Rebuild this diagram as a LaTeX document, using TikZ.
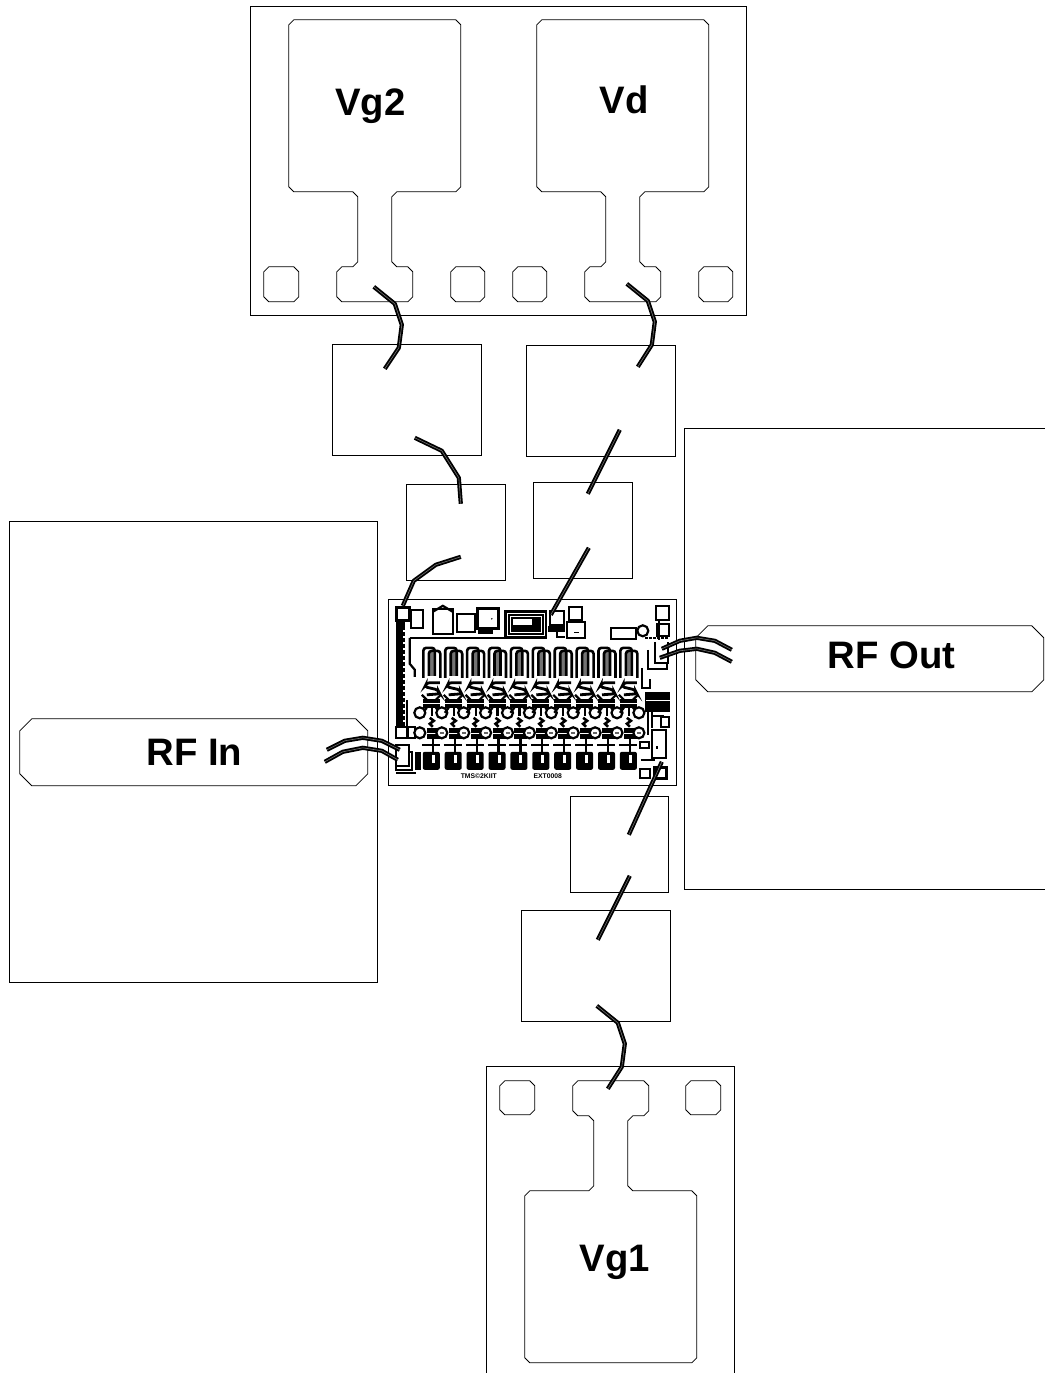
\documentclass[tikz,border=0pt]{standalone}
\usepackage{fontspec}
\setmainfont{Liberation Sans}
\tikzset{
  x=1pt,y=-1pt,
  outline/.style={draw=black,line width=0.8pt,fill=none},
  label/.style={font=\bfseries\fontsize{38.3}{40}\selectfont,inner sep=0pt},
  wire/.style={draw=black,line width=1.8pt,double=black!55,double distance=0.6pt,line join=round},
  chipline/.style={draw=black,line width=2.2pt},
  chipthin/.style={draw=black,line width=1pt},
  chiplabel/.style={font=\bfseries\fontsize{6.8}{7}\selectfont,inner sep=0pt}
}
\newcommand{\chamf}[5]{\draw[outline] ({#1+#5},#2)--({#3-#5},#2)--(#3,{#2+#5})--(#3,{#4-#5})--({#3-#5},#4)--({#1+#5},#4)--(#1,{#4-#5})--(#1,{#2+#5})--cycle;}
\newcommand{\tpad}{\draw[outline] (5,0)--(167,0)--(172,5)--(172,167)--(167,172)--(108,172)--(103,177)--(103,242)--(108,247)--(119,247)--(124,252)--(124,277)--(119,282)--(53,282)--(48,277)--(48,252)--(53,247)--(64,247)--(69,242)--(69,177)--(64,172)--(5,172)--(0,167)--(0,5)--cycle;}
\newcommand{\chipbox}[4]{\draw[chipline,fill=white] (#1,#2) rectangle (#3,#4);}
\begin{document}
\begin{tikzpicture}
\useasboundingbox (0,0) rectangle (1044,1373);
\fill[white] (0,0) rectangle (1044,1373);
\begin{scope}[shift={(-0.2,-0.2)}]
% large frames
\draw[outline] (251,7) rectangle (747,316);
\draw[outline] (1045,429)--(685,429)--(685,890)--(1045,890);
\draw[outline] (10,522) rectangle (378,983);
\draw[outline] (487,1374)--(487,1067)--(735,1067)--(735,1374);
% DC pads
\begin{scope}[shift={(289,20)}]\tpad\end{scope}
\begin{scope}[shift={(537,20)}]\tpad\end{scope}
\begin{scope}[shift={(525,1363)},yscale=-1]\tpad\end{scope}
\chamf{264}{267}{299}{302}{5}
\chamf{451}{267}{485}{302}{5}
\chamf{513}{267}{547}{302}{5}
\chamf{699}{267}{733}{302}{5}
\chamf{500}{1081}{535}{1115}{5}
\chamf{686}{1081}{721}{1115}{5}
% capacitors
\draw[outline] (333,345) rectangle (482,456);
\draw[outline] (527,346) rectangle (676,457);
\draw[outline] (407,485) rectangle (506,581);
\draw[outline] (534,483) rectangle (633,579);
\draw[outline] (571,797) rectangle (669,893);
\draw[outline] (522,911) rectangle (671,1022);
% RF pads
\chamf{20}{719}{368}{786}{12}
\chamf{696}{626}{1044}{692}{12}
% chip
\draw[draw=black,line width=1.1pt,fill=white] (389,600) rectangle (677,786);
% chip: left column
\fill[black] (396,622) rectangle (405,726);
\foreach \y in {630,636,...,722}{\fill[white] (403.5,\y) rectangle (405,{\y+2});}
\fill[black] (406,700) rectangle (408,726);
\draw[chipline] (410,638)--(410,664)--(415,670)--(415,677);
\draw[chipline] (410,638)--(547,638);
% chip: top row
\draw[black,line width=3pt,fill=white] (397,608) rectangle (410,621);
\chipbox{411}{610}{423}{628}
\draw[chipline,fill=white] (433,609) rectangle (453,634);
\draw[chipline] (433,612)--(443,606)--(453,612);
\draw[chipline,fill=white] (457,614) rectangle (475,632);
\draw[black,line width=2.8pt,fill=white] (478,609) rectangle (499,629);
\fill[black] (478,629) rectangle (493,634);
\fill[black] (492,619) circle (.8);
\fill[black] (504,610) rectangle (547,638);
\draw[white,line width=.6pt] (507,613) rectangle (544,635);
\draw[white,line width=.6pt] (510,616) rectangle (541,632);
\fill[white] (513,619) rectangle (532,625);
\draw[black,line width=2.6pt,fill=white] (550,611) rectangle (564,625);
\draw[chipline,fill=white] (569,607) rectangle (582,620);
\draw[chipline,fill=white] (567,622) rectangle (585,638);
\fill[black] (574,632) rectangle (579,633.5);
\fill[black] (548,626) rectangle (565,632);
\draw[chipline] (557,632)--(557,637)--(565,637);
\draw[chipline,fill=white] (611,628) rectangle (636,639);
\draw[chipline,fill=white] (643,631) circle (5.5);
\draw[chipline,fill=white] (656,606) rectangle (669,620);
\draw[chipline,fill=white] (657,624) rectangle (669,636);
\draw[black,line width=2.4pt] (659,620)--(659,640);
\draw[black,line width=2.4pt,dash pattern=on 3pt off 1pt] (645,638)--(668,638);
% chip: RF output
\draw[black,line width=2.6pt] (655,642)--(655,663)--(668,663)--(668,642);
\draw[chipline] (648,650)--(648,669)--(667,669)--(667,663);
\draw[chipline] (642,668)--(642,688)--(650,688)--(650,679);
% chip: repeating cells
\foreach \i in {0,...,9}{
\begin{scope}[shift={({422+21.9*\i},0)}]
 % meander
 \fill[black!55] (7,652) rectangle (13,676);
 \draw[black,line width=2.6pt,rounded corners=3pt] (1.5,678)--(1.5,648)--(13,648)--(13,676);
 \draw[black,line width=2.6pt,rounded corners=3pt] (7,676)--(7,651)--(18.5,651)--(18.5,678);
 % S curve
 \draw[black,line width=2.8pt,rounded corners=2.5pt] (18,683)--(5,683)--(3,687)--(16,690)--(18,694)--(5,695);
 % upper device
 \fill[black] (1,699) rectangle (18,708);
 \draw[chipline] (0,695)--(5,700); \draw[chipline] (19,695)--(14,700);
 \draw[white,line width=.7pt] (1,703.5)--(18,703.5);
 \draw[chipline] (5,708)--(1,713); \draw[chipline] (14,708)--(19,713);
 \draw[chipline] (10,708)--(10,716);
 \draw[black,line width=2.6pt] (8,718)--(12,721)--(8,724)--(11,727);
 \draw[chipline,fill=white] (20,713) circle (5.5);
 % lower device
 \fill[black] (5,728) rectangle (18,739);
 \draw[white,line width=.7pt] (5,733.5)--(18,733.5);
 \draw[chipline,fill=white] (20,733) circle (5.5);
 \fill[black!60] (18,732.5) rectangle (22,734);
 % bottom block
 \draw[chipline] (11,739)--(11,752);
 \draw[chipline] (0,745)--(18,745);
 \fill[black,rounded corners=2pt] (1,752) rectangle (18,770);
 \fill[white] (10,755) rectangle (13,763);
\end{scope}}
% chip: lower left
\draw[chipline,fill=white] (420,713) circle (5.5);
\draw[black,line width=2.4pt,fill=white] (396,727) rectangle (407,738);
\draw[chipline,fill=white] (408,727) rectangle (415,738);
\draw[chipline,fill=white] (420,733) circle (5.5);
\draw[black,line width=2.6pt,fill=white] (396,745) rectangle (409,766);
\draw[chipline] (409,752)--(412,752)--(412,770)--(396,770)--(396,766);
\fill[black] (415,752) rectangle (421,770);
\draw[chipline] (396,773)--(416,773);
% chip: right lower
\fill[black] (645,692) rectangle (670,712);
\draw[white,line width=.5pt] (646,700)--(670,700);
\draw[chipline] (652,712)--(652,728);
\draw[chipline] (648,712)--(648,735);
\draw[chipline] (652,716)--(664,716);
\draw[chipline,fill=white] (661,717) rectangle (669,727);
\draw[black,line width=2.6pt,fill=white] (652,730) rectangle (666,758);
\fill[black] (656,746) rectangle (658,749);
\draw[chipline,fill=white] (640,742) rectangle (649,748);
\draw[black,line width=3pt,fill=white] (655,768) rectangle (667,779);
\draw[chipline,fill=white] (640,769) rectangle (650,778);
\draw[chipline] (641,760)--(655,760);
% chip labels
\node[chiplabel] (chipname) at (479,776.5) {TMS©2KIIT};
\node[chiplabel] (chipcode) at (548,776.5) {EXT0008};
% wires
\coordinate (wa1) at (374,287); \coordinate (wa2) at (385,369);
\draw[wire] (wa1)--(395,304)--(402,325)--(399,348)--(wa2);
\coordinate (wb1) at (627,284); \coordinate (wb2) at (638,367);
\draw[wire] (wb1)--(648,301)--(655,322)--(652,345)--(wb2);
\coordinate (wc1) at (415,438); \coordinate (wc2) at (461,504);
\draw[wire] (wc1)--(442,451)--(459,478)--(wc2);
\coordinate (wd1) at (461,557); \coordinate (wd2) at (403,606);
\draw[wire] (wd1)--(436,565)--(414,581)--(wd2);
\coordinate (we1) at (620,430); \coordinate (we2) at (588,494);
\draw[wire] (we1)--(we2);
\coordinate (wf1) at (589,548); \coordinate (wf2) at (551,615);
\draw[wire] (wf1)--(wf2);
\coordinate (wg1) at (662,762); \coordinate (wg2) at (629,835);
\draw[wire] (wg1)--(wg2);
\coordinate (wh1) at (630,876); \coordinate (wh2) at (598,940);
\draw[wire] (wh1)--(wh2);
\coordinate (wi1) at (597,1006); \coordinate (wi2) at (608,1089);
\draw[wire] (wi1)--(618,1023)--(625,1044)--(622,1067)--(wi2);
\coordinate (wj1) at (327,750); \coordinate (wj2) at (400,750);
\draw[wire] (wj1)--(345,741)--(363,738)--(382,741)--(wj2);
\coordinate (wk1) at (325,762); \coordinate (wk2) at (398,760);
\draw[wire] (wk1)--(343,752)--(363,748)--(382,751)--(wk2);
\coordinate (wl1) at (662,649); \coordinate (wl2) at (732,650);
\draw[wire] (wl1)--(680,641)--(697,638)--(715,641)--(wl2);
\coordinate (wm1) at (660,658); \coordinate (wm2) at (732,662);
\draw[wire] (wm1)--(680,651)--(697,649)--(715,653)--(wm2);
% labels
\node[label] (vgtwo) at (370.5,106) {Vg2};
\node[label] (vd) at (624.5,100.5) {Vd};
\node[label] (vgone) at (615,1263) {Vg1};
\node[label] (rfin) at (194.5,752.5) {RF In};
\node[label] (rfout) at (892,655.5) {RF Out};
\end{scope}
\end{tikzpicture}
\end{document}
